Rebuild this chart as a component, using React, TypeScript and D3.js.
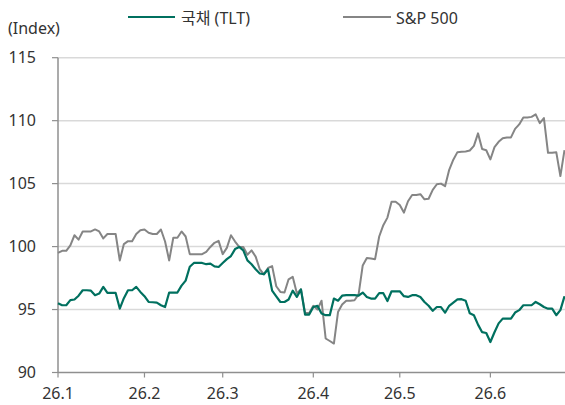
import React from "react";
import * as d3 from "d3";

const tltValues = [
  95.5, 95.34, 95.34, 95.75, 95.8, 96.1, 96.53, 96.53, 96.5, 96.14,
  96.27, 96.8, 96.32, 96.32, 96.32, 95.08, 95.9, 96.53, 96.53, 96.8,
  96.4, 96.06, 95.6, 95.58, 95.55, 95.34, 95.2, 96.35, 96.35, 96.35,
  96.9, 97.3, 98.4, 98.7, 98.7, 98.7, 98.6, 98.65, 98.43, 98.38,
  98.7, 99.0, 99.25, 99.8, 99.97, 99.7, 98.9, 98.6, 98.2, 97.86,
  97.8, 98.2, 96.5, 96.05, 95.6, 95.6, 95.8, 96.5, 96.0, 96.6,
  94.6, 94.6, 95.2, 95.3, 94.68, 94.55, 94.55, 95.87, 95.7, 96.1,
  96.14, 96.14, 96.14, 96.1, 96.35, 96.0, 95.87, 95.87, 96.3, 96.3,
  95.68, 96.45, 96.45, 96.45, 96.06, 96.0, 96.14, 96.14, 96.0, 95.6,
  95.3, 94.9, 95.2, 95.2, 94.75, 95.3, 95.55, 95.8, 95.82, 95.7,
  94.7, 94.55, 93.8, 93.2, 93.14, 92.42, 93.2, 93.9, 94.28, 94.28,
  94.28, 94.76, 94.95, 95.34, 95.34, 95.34, 95.6, 95.42, 95.2, 95.07,
  95.07, 94.55, 94.95, 96.06,
];

const spValues = [
  99.5, 99.66, 99.66, 100.1, 100.9, 100.55, 101.2, 101.2, 101.2, 101.36,
  101.2, 100.65, 101.0, 101.0, 101.0, 98.9, 100.2, 100.43, 100.43, 101.0,
  101.3, 101.36, 101.1, 101.0, 101.0, 101.36, 100.4, 98.9, 100.7, 100.7,
  101.2, 100.8, 99.4, 99.4, 99.4, 99.4, 99.58, 99.97, 100.3, 100.45,
  99.4, 99.9, 100.9, 100.4, 99.97, 99.97, 99.35, 99.7, 99.2, 98.2,
  97.8, 98.3, 98.45, 96.85, 96.4, 96.35, 97.4, 97.6, 96.3, 96.6,
  94.73, 94.73, 95.3, 95.0, 95.7, 92.7, 92.5, 92.3, 94.8, 95.4,
  95.7, 95.7, 95.74, 96.2, 98.5, 99.1, 99.05, 99.0, 100.8, 101.7,
  102.3, 103.56, 103.56, 103.3, 102.7, 103.6, 104.1, 104.1, 104.16, 103.75,
  103.8, 104.5, 104.95, 105.0, 104.8, 106.1, 106.9, 107.5, 107.53, 107.55,
  107.63, 108.0, 108.99, 107.75, 107.65, 106.92, 107.9, 108.32, 108.6, 108.67,
  108.67, 109.35, 109.7, 110.26, 110.26, 110.3, 110.5, 109.8, 110.2, 107.45,
  107.45, 107.5, 105.6, 107.66,
];

const xTickIndex = [0, 21, 40, 62, 83, 105];
const xTickLabels = ["26.1", "26.2", "26.3", "26.4", "26.5", "26.6"];
const yTicks = [90, 95, 100, 105, 110, 115];

const seriesNames = ["국채 (TLT)", "S&P 500"];
const seriesColors = ["#00705f", "#858585"];

const W = 565;
const H = 405;
const FONT = "'Noto Sans', 'Noto Sans CJK KR', sans-serif";

export default function App() {
  const x = d3.scaleLinear().domain([0, tltValues.length - 1]).range([58, 564.5]);
  const y = d3.scaleLinear().domain([90, 115]).range([372.5, 57.7]);
  const line = d3
    .line<number>()
    .x((_, i) => x(i))
    .y((d) => y(d));

  const axisColor = "#8f8f8f";
  const textColor = "#333333";

  return (
    <svg
      width={W}
      height={H}
      style={{ position: "absolute", left: 0, top: 0, background: "#fff" }}
      fontFamily={FONT}
    >
      {/* grid lines */}
      {yTicks.filter((t) => t !== 90).map((t) => (
        <line key={"g" + t} x1={58} x2={W} y1={y(t)} y2={y(t)} stroke="#d9d9d9" strokeWidth={1.5} />
      ))}
      {/* y axis */}
      <line x1={58} x2={58} y1={y(115)} y2={y(90)} stroke={axisColor} strokeWidth={1.5} />
      {yTicks.map((t) => (
        <g key={"y" + t}>
          <line x1={52} x2={58} y1={y(t)} y2={y(t)} stroke={axisColor} strokeWidth={1.2} />
          <text x={36} y={y(t)} dy="0.36em" textAnchor="end" fontSize={16} fill={textColor}>
            {t}
          </text>
        </g>
      ))}
      {/* x axis */}
      <line x1={58} x2={W} y1={y(90)} y2={y(90)} stroke={axisColor} strokeWidth={1.5} />
      {xTickIndex.map((ti, k) => (
        <g key={"x" + ti}>
          <line x1={x(ti)} x2={x(ti)} y1={y(90)} y2={y(90) + 5} stroke={axisColor} strokeWidth={1.2} />
          <text x={x(ti)} y={399} textAnchor="middle" fontSize={16} fill={textColor}>
            {xTickLabels[k]}
          </text>
        </g>
      ))}
      {/* series */}
      <path d={line(spValues) || ""} fill="none" stroke={seriesColors[1]} strokeWidth={2} strokeLinejoin="round" />
      <path d={line(tltValues) || ""} fill="none" stroke={seriesColors[0]} strokeWidth={2.2} strokeLinejoin="round" />
      {/* unit label */}
      <text x={8} y={33.5} fontSize={16} fill={textColor}>(Index)</text>
      {/* legend */}
      <line x1={128} x2={175} y1={17} y2={17} stroke={seriesColors[0]} strokeWidth={2.2} />
      <text x={181} y={23.5} fontSize={16} fill={textColor}>{seriesNames[0]}</text>
      <line x1={343} x2={391} y1={17} y2={17} stroke={seriesColors[1]} strokeWidth={2} />
      <text x={396} y={23.5} fontSize={16} fill={textColor}>{seriesNames[1]}</text>
    </svg>
  );
}
